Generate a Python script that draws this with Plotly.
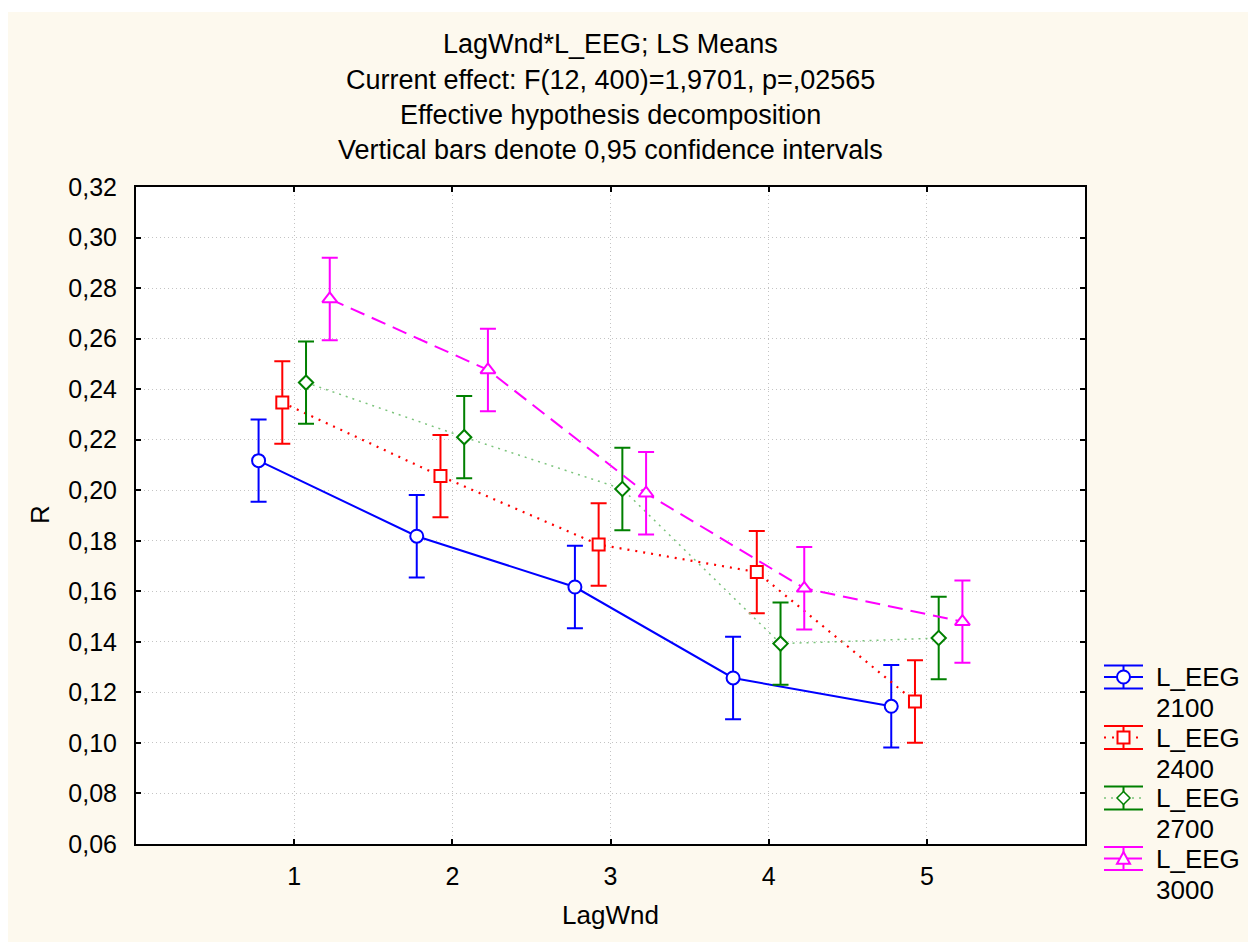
import plotly.graph_objects as go

lag_wnd = [1, 2, 3, 4, 5]
series_names = ["2100", "2400", "2700", "3000"]
r_2100 = [0.2117, 0.1818, 0.1617, 0.1257, 0.1145]
r_2400 = [0.2347, 0.2056, 0.1785, 0.1676, 0.1164]
r_2700 = [0.2426, 0.2210, 0.2005, 0.1393, 0.1415]
r_3000 = [0.2757, 0.2476, 0.1988, 0.1612, 0.1480]
ci_half = [0.0163, 0.0163, 0.0163, 0.0163, 0.0163]
values = [r_2100, r_2400, r_2700, r_3000]
legend_title = "L_EEG"
title_lines = ["LagWnd*L_EEG; LS Means",
               "Current effect: F(12, 400)=1,9701, p=,02565",
               "Effective hypothesis decomposition",
               "Vertical bars denote 0,95 confidence intervals"]

offsets = [-0.225, -0.075, 0.075, 0.225]
err_colors = ["#0000FF", "#FF0000", "#008000", "#FF00FF"]
line_colors = ["#0000FF", "#FF0000", "#7CC47C", "#FF00FF"]
dashes = ["solid", "2px,6px", "2px,5px", "15px,8px"]
line_widths = [2, 2.2, 1.5, 2]
symbols = ["circle", "square", "diamond", "triangle-up"]
msizes = [13, 12, 11, 13]

FONT = "Liberation Sans, Arial, sans-serif"
# plot-area geometry in pixels
L, T, R, B = 136, 187, 1085, 844
PW, PH = R - L, B - T


def px(xp):
    return (xp - L) / PW


def py(yp):
    return (B - yp) / PH


fig = go.Figure()
for i, name in enumerate(series_names):
    fig.add_trace(go.Scatter(
        x=[v + offsets[i] for v in lag_wnd],
        y=values[i],
        mode="lines+markers",
        name=legend_title + " " + name,
        showlegend=False,
        line=dict(color=line_colors[i], dash=dashes[i], width=line_widths[i]),
        marker=dict(symbol=symbols[i], size=msizes[i], color="white",
                    line=dict(color=err_colors[i], width=2)),
        error_y=dict(type="data", array=ci_half, visible=True,
                     color=err_colors[i], thickness=2, width=8),
    ))

annotations = []
title_centers_px = [44, 80, 115, 150]
for txt, yc in zip(title_lines, title_centers_px):
    annotations.append(dict(text=txt, xref="paper", yref="paper", x=0.5,
                            y=py(yc), xanchor="center", yanchor="middle",
                            showarrow=False, font=dict(size=27, family=FONT, color="black")))
annotations.append(dict(text="LagWnd", xref="paper", yref="paper", x=0.5,
                        y=py(915), xanchor="center", yanchor="middle",
                        showarrow=False, font=dict(size=26, family=FONT, color="black")))
annotations.append(dict(text="R", xref="paper", yref="paper", x=px(40),
                        y=py(515), xanchor="center", yanchor="middle", textangle=-90,
                        showarrow=False, font=dict(size=26, family=FONT, color="black")))

shapes = [
    dict(type="rect", xref="paper", yref="paper",
         x0=px(-20), x1=px(8), y0=py(960), y1=py(-20),
         fillcolor="white", line=dict(width=0), layer="below"),
    dict(type="rect", xref="paper", yref="paper",
         x0=px(-20), x1=px(1260), y0=py(12), y1=py(-20),
         fillcolor="white", line=dict(width=0), layer="below"),
]

# custom legend with error-bar icons
ix0, ix1 = 1104, 1143
ixc = (ix0 + ix1) / 2
for i, name in enumerate(series_names):
    yc = 677 + i * 60.5
    col = err_colors[i]
    for yy in (yc - 11.5, yc + 11.5):
        shapes.append(dict(type="line", xref="paper", yref="paper",
                           x0=px(ix0), x1=px(ix1), y0=py(yy), y1=py(yy),
                           line=dict(color=col, width=2)))
    shapes.append(dict(type="line", xref="paper", yref="paper",
                       x0=px(ixc), x1=px(ixc), y0=py(yc - 11.5), y1=py(yc + 11.5),
                       line=dict(color=col, width=2)))
    shapes.append(dict(type="line", xref="paper", yref="paper",
                       x0=px(ix0), x1=px(ix1), y0=py(yc), y1=py(yc),
                       line=dict(color=line_colors[i], width=line_widths[i], dash=dashes[i])))
    s = msizes[i] / 2
    mk = dict(xref="paper", yref="paper", fillcolor="white", line=dict(color=col, width=2))
    if symbols[i] == "circle":
        mk.update(type="circle", x0=px(ixc - s), x1=px(ixc + s), y0=py(yc + s), y1=py(yc - s))
    elif symbols[i] == "square":
        mk.update(type="rect", x0=px(ixc - s), x1=px(ixc + s), y0=py(yc + s), y1=py(yc - s))
    elif symbols[i] == "diamond":
        d = s + 1
        mk.update(type="path", path=(f"M {px(ixc)} {py(yc - d)} L {px(ixc + d)} {py(yc)} "
                                     f"L {px(ixc)} {py(yc + d)} L {px(ixc - d)} {py(yc)} Z"),
                  line=dict(color=col, width=1.5))
    else:
        mk.update(type="path", path=(f"M {px(ixc)} {py(yc - s)} L {px(ixc + s)} {py(yc + s * 0.8)} "
                                     f"L {px(ixc - s)} {py(yc + s * 0.8)} Z"))
    shapes.append(mk)
    annotations.append(dict(text=legend_title, xref="paper", yref="paper", x=px(1154),
                            y=py(yc), xanchor="left", yanchor="middle", showarrow=False,
                            font=dict(size=26, family=FONT, color="black")))
    annotations.append(dict(text=name, xref="paper", yref="paper", x=px(1154),
                            y=py(yc + 31), xanchor="left", yanchor="middle", showarrow=False,
                            font=dict(size=26, family=FONT, color="black")))

fig.update_layout(
    width=1248, height=942,
    margin=dict(l=L, r=1248 - R, t=T, b=942 - B),
    paper_bgcolor="#FDF9EE",
    plot_bgcolor="white",
    font=dict(family=FONT, size=25, color="black"),
    annotations=annotations,
    shapes=shapes,
    showlegend=False,
    xaxis=dict(range=[0, 6], tickvals=lag_wnd, ticktext=[str(v) for v in lag_wnd],
               tickfont=dict(size=25, family=FONT), automargin=False,
               showgrid=True, gridcolor="#C4C4C4", griddash="1px,3px", gridwidth=1,
               ticks="inside", ticklen=5, tickwidth=1.5, tickcolor="black",
               showline=True, linecolor="black", linewidth=2, mirror="ticks",
               zeroline=False, ticklabelstandoff=9),
    yaxis=dict(range=[0.06, 0.32], dtick=0.02, tickformat=".2f",
               tickfont=dict(size=25, family=FONT), automargin=False,
               showgrid=True, gridcolor="#C4C4C4", griddash="1px,3px", gridwidth=1,
               ticks="inside", ticklen=5, tickwidth=1.5, tickcolor="black",
               showline=True, linecolor="black", linewidth=2, mirror="ticks",
               zeroline=False, ticklabelstandoff=12),
    separators=",.",
)
fig.write_html("out.html")
